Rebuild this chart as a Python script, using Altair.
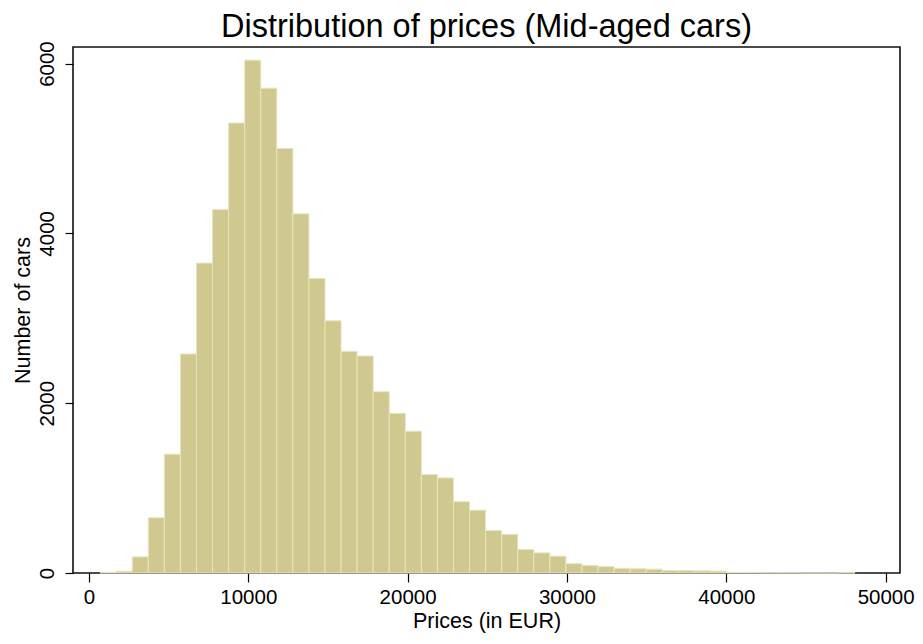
import altair as alt
import pandas as pd

# Histogram bins (EUR) and counts
bin_left = [702, 1710, 2718, 3726, 4734, 5742, 6750, 7758, 8766, 9774,
            10782, 11790, 12798, 13806, 14814, 15822, 16830, 17838, 18846, 19854,
            20862, 21870, 22878, 23886, 24894, 25902, 26910, 27918, 28926, 29934,
            30942, 31950, 32958, 33966, 34974, 35982, 36990, 37998, 39006, 40014,
            41022, 42030, 43038, 44046, 45054, 46062, 47070]
bin_right = [1710, 2718, 3726, 4734, 5742, 6750, 7758, 8766, 9774, 10782,
             11790, 12798, 13806, 14814, 15822, 16830, 17838, 18846, 19854, 20862,
             21870, 22878, 23886, 24894, 25902, 26910, 27918, 28926, 29934, 30942,
             31950, 32958, 33966, 34974, 35982, 36990, 37998, 39006, 40014, 41022,
             42030, 43038, 44046, 45054, 46062, 47070, 48078]
counts = [5, 20, 190, 650, 1400, 2580, 3650, 4280, 5300, 6040,
          5710, 5000, 4230, 3470, 2970, 2610, 2555, 2135, 1880, 1670,
          1160, 1120, 840, 740, 500, 455, 278, 237, 198, 110,
          90, 75, 55, 50, 45, 30, 28, 25, 22, 6,
          5, 4, 3, 2, 1, 0, 4]

x_ticks = [0, 10000, 20000, 30000, 40000, 50000]
y_ticks = [0, 2000, 4000, 6000]

df = pd.DataFrame({"lo": bin_left, "hi": bin_right, "n": counts})

FONT = "Liberation Sans"

chart = alt.Chart(df).mark_bar(
    color="#cfc98f", stroke="#e8e4c2", strokeWidth=1
).encode(
    x=alt.X("lo:Q",
            scale=alt.Scale(domain=[-1000, 50900], nice=False, zero=False),
            axis=alt.Axis(values=x_ticks, title="Prices (in EUR)", grid=False,
                          domain=False, tickSize=9, tickColor="black", tickWidth=1.2,
                          labelFontSize=20.5, titleFontSize=21.5, labelPadding=5,
                          titlePadding=3, labelFont=FONT, titleFont=FONT,
                          labelColor="black", titleColor="black", titleFontWeight="normal",
                          format="d")),
    x2="hi:Q",
    y=alt.Y("n:Q",
            scale=alt.Scale(domain=[0, 6195], nice=False),
            axis=alt.Axis(values=y_ticks, title="Number of cars", grid=False,
                          domain=False, tickSize=8, tickColor="black", tickWidth=1.2,
                          labelAngle=270, labelAlign="center", labelBaseline="bottom",
                          labelFontSize=20.5, titleFontSize=21.5, labelPadding=8,
                          titlePadding=3, labelFont=FONT, titleFont=FONT,
                          labelColor="black", titleColor="black", titleFontWeight="normal",
                          format="d")),
    y2=alt.datum(0),
).properties(
    width=827,
    height=526,
    background="white",
    title=alt.TitleParams("Distribution of prices (Mid-aged cars)", font=FONT,
                          fontSize=32.5, fontWeight="normal", color="black",
                          anchor="middle", frame="group", offset=-3),
    autosize="none",
    padding={"left": 65, "top": 39, "right": 15, "bottom": 63},
).configure_view(
    stroke="#111111", strokeWidth=1.6
)

chart.save("out.html", embed_options={"renderer": "svg", "actions": False})
